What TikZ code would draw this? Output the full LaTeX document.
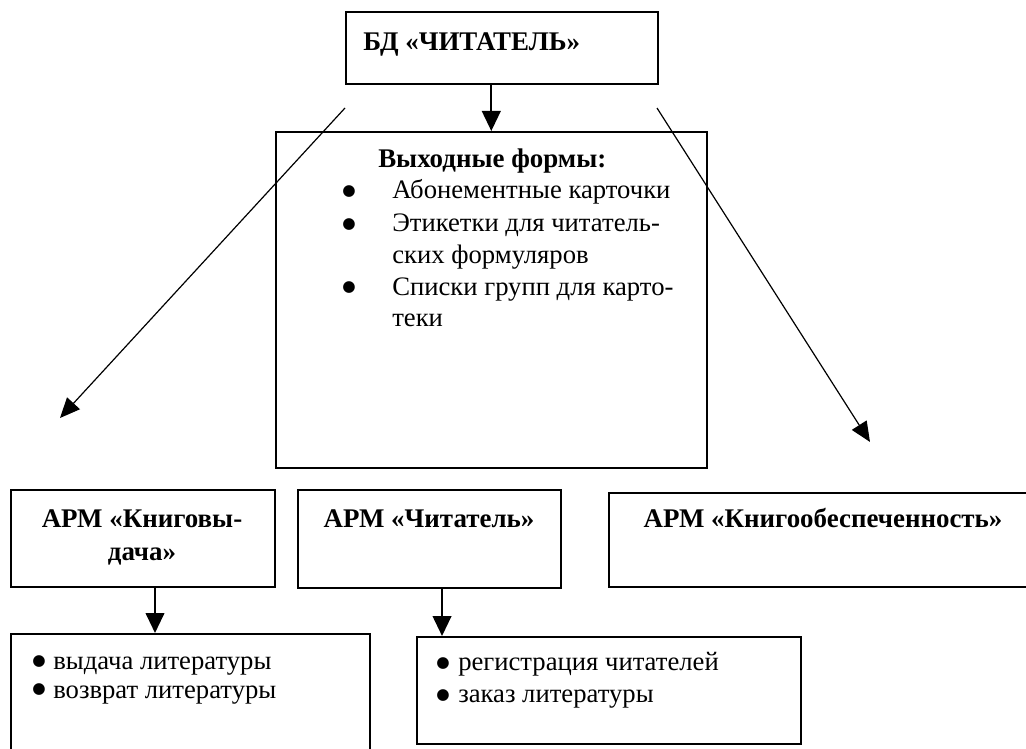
\documentclass[tikz,border=0pt]{standalone}
\usepackage{fontspec}
\setmainfont{Liberation Serif}
\newfontfamily\bulfont{DejaVu Sans}
\usetikzlibrary{arrows.meta,calc}
\begin{document}
\begin{tikzpicture}[x=0.75pt,y=-0.75pt,
  box/.style={draw, line width=1.5pt, inner sep=0pt, anchor=north west},
  txt/.style={inner sep=0pt, font=\fontsize{20pt}{24pt}\selectfont},
  btxt/.style={inner sep=0pt, font=\fontsize{20.2pt}{24pt}\selectfont\bfseries},
  bul/.style={inner sep=0pt, anchor=center, font=\bulfont\fontsize{11.5pt}{11.5pt}\selectfont},
  arr/.style={line width=1.5pt, -{Triangle[length=15pt,width=14pt]}},
  darr/.style={line width=0.9pt, -{Triangle[length=15pt,width=13pt]}}]
\useasboundingbox (0,0) rectangle (1026,749);
\clip (0,0) rectangle (1026,749);

% boxes
\node[box, minimum width=234pt, minimum height=54pt] (top) at (345,11) {};
\node[box, line width=1.2pt, minimum width=323.25pt, minimum height=252pt] (mid) at (275,131) {};
\node[box, minimum width=198pt, minimum height=72.75pt] (A) at (10,489) {};
\node[box, minimum width=197.25pt, minimum height=73.5pt] (B) at (297,489) {};
\node[box, minimum width=324pt, minimum height=70.5pt] (C) at (608,492) {};
\node[box, minimum width=269.25pt, minimum height=105pt] (D) at (10,633) {};
\node[box, minimum width=288pt, minimum height=80.25pt] (E) at (416,636) {};

% texts
\node[btxt, anchor=base west] (topt) at (363,51) {БД «ЧИТАТЕЛЬ»};

\node[btxt, anchor=base west] (midh) at (378,167) {Выходные формы:};
\node[bul] (m1b) at (349,192) {●};
\node[txt, anchor=base west] (m1) at (392,199) {Абонементные карточки};
\node[bul] (m2b) at (349,225) {●};
\node[txt, anchor=base west] (m2) at (392,231) {Этикетки для читатель-};
\node[txt, anchor=base west] (m3) at (392,263) {ских формуляров};
\node[bul] (m4b) at (349,288) {●};
\node[txt, anchor=base west] (m4) at (392,295) {Списки групп для карто-};
\node[txt, anchor=base west] (m5) at (392,326) {теки};

\node[btxt, anchor=base] (At1) at (142,527) {АРМ «Книговы-};
\node[btxt, anchor=base] (At2) at (142,560) {дача»};
\node[btxt, anchor=base] (Bt) at (429,527) {АРМ «Читатель»};
\node[btxt, anchor=base] (Ct) at (823,527) {АРМ «Книгообеспеченность»};

\node[bul] (D1b) at (39,662) {●};
\node[txt, anchor=base west] (D1) at (53,669) {выдача литературы};
\node[bul] (D2b) at (39,690) {●};
\node[txt, anchor=base west] (D2) at (53,698) {возврат литературы};
\node[bul] (E1b) at (443,664) {●};
\node[txt, anchor=base west] (E1) at (458,670) {регистрация читателей};
\node[bul] (E2b) at (443,696) {●};
\node[txt, anchor=base west] (E2) at (458,702) {заказ литературы};

% connectors
\draw[arr] (top.south -| mid.north) -- (mid.north);
\coordinate (ls) at (345,108);
\coordinate (le) at (60,418);
\coordinate (rs) at (657,108);
\coordinate (re) at (870,442);
\draw[darr] (ls) -- (le);
\draw[darr] (rs) -- (re);
\draw[arr] ([xshift=9pt]A.south) -- ([xshift=9pt]A.south |- D.north);
\draw[arr] ([xshift=9.4pt]B.south) -- ([xshift=9.4pt]B.south |- E.north);
\end{tikzpicture}
\end{document}
